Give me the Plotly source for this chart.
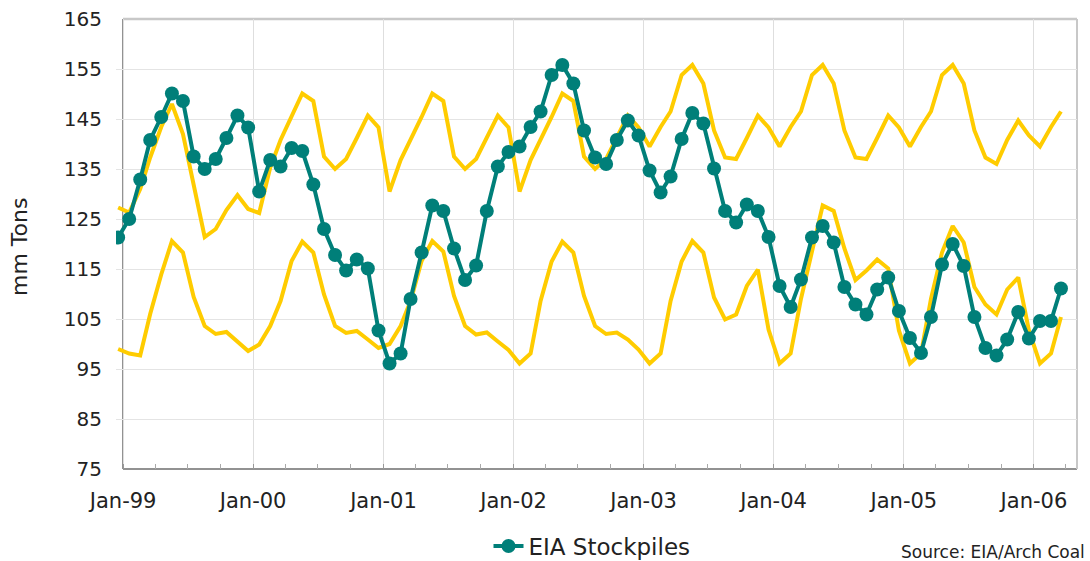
import pandas as pd
import plotly.graph_objects as go

# Monthly values, Dec-98 .. Mar-06 (mm tons)
eia_stockpiles = [
    121.3,
    125.0, 132.9, 140.8, 145.4, 150.1, 148.6, 137.5, 135.0, 137.0, 141.2, 145.7, 143.3,
    130.5, 136.8, 135.5, 139.2, 138.6, 131.9, 123.0, 117.8, 114.7, 116.9, 115.1, 102.7,
    96.1, 98.1, 109.0, 118.3, 127.7, 126.6, 119.1, 112.8, 115.7, 126.6, 135.5, 138.4,
    139.5, 143.4, 146.5, 153.8, 155.8, 152.1, 142.7, 137.3, 136.0, 140.8, 144.7, 141.7,
    134.7, 130.3, 133.5, 141.0, 146.2, 144.1, 135.1, 126.6, 124.3, 127.9, 126.6, 121.4,
    111.6, 107.4, 112.9, 121.3, 123.6, 120.3, 111.4, 107.9, 105.9, 110.9, 113.3, 106.6,
    101.2, 98.2, 105.4, 115.9, 120.0, 115.6, 105.4, 99.2, 97.7, 100.9, 106.4, 101.1,
    104.6, 104.6, 111.1,
]

range_high = [
    127.3,
    126.3, 131.0, 137.3, 143.4, 148.0, 142.0, 132.0, 121.4, 123.0, 126.8, 129.8, 127.0,
    126.2, 135.3, 140.8, 145.4, 150.1, 148.6, 137.5, 135.0, 137.0, 141.2, 145.7, 143.3,
    130.5, 136.8, 140.8, 145.4, 150.1, 148.6, 137.5, 135.0, 137.0, 141.2, 145.7, 143.3,
    130.5, 136.8, 140.8, 145.4, 150.1, 148.6, 137.5, 135.0, 137.0, 141.2, 145.7, 143.3,
    139.5, 143.4, 146.5, 153.8, 155.8, 152.1, 142.7, 137.3, 137.0, 141.2, 145.7, 143.3,
    139.5, 143.4, 146.5, 153.8, 155.8, 152.1, 142.7, 137.3, 137.0, 141.2, 145.7, 143.3,
    139.5, 143.4, 146.5, 153.8, 155.8, 152.1, 142.7, 137.3, 136.0, 140.8, 144.7, 141.7,
    139.5, 143.4, 146.5,
]

range_low = [
    99.0,
    98.1, 97.7, 106.0, 113.9, 120.6, 118.3, 109.4, 103.6, 102.0, 102.4, 100.5, 98.6,
    99.9, 103.6, 108.6, 116.6, 120.5, 118.3, 109.9, 103.6, 102.2, 102.6, 100.9, 99.2,
    100.0, 103.6, 108.6, 116.6, 120.6, 118.5, 109.6, 103.6, 101.9, 102.3, 100.5, 98.8,
    96.1, 98.1, 108.6, 116.5, 120.5, 118.3, 109.6, 103.6, 102.0, 102.3, 100.9, 98.9,
    96.1, 98.1, 108.6, 116.5, 120.6, 118.3, 109.3, 104.9, 105.9, 111.6, 114.9, 102.9,
    96.1, 98.1, 109.0, 118.3, 127.7, 126.6, 119.1, 112.8, 114.7, 116.9, 115.1, 102.7,
    96.1, 98.1, 109.0, 118.3, 123.6, 120.3, 111.4, 107.9, 105.9, 110.9, 113.3, 102.7,
    96.1, 98.1, 105.4,
]

first_month = "1998-12-01"
dates = pd.date_range(first_month, periods=len(eia_stockpiles), freq="MS") + pd.Timedelta(days=17)

YELLOW = "#FFCC00"
TEAL = "#007F79"
FONT = "DejaVu Sans"

fig = go.Figure()
fig.add_trace(go.Scatter(x=dates, y=range_high, mode="lines",
                         line=dict(color=YELLOW, width=4), showlegend=False, hoverinfo="skip"))
fig.add_trace(go.Scatter(x=dates, y=range_low, mode="lines",
                         line=dict(color=YELLOW, width=4), showlegend=False, hoverinfo="skip"))
fig.add_trace(go.Scatter(x=dates, y=eia_stockpiles, mode="lines+markers", name="EIA Stockpiles",
                         line=dict(color=TEAL, width=4),
                         marker=dict(color=TEAL, size=14)))

plot_left_px, plot_right_px = 116, 1077
plot_top_px, plot_bottom_px = 19, 469
pw = plot_right_px - plot_left_px
ph = plot_bottom_px - plot_top_px
axis_px = 123
ax0 = (axis_px - plot_left_px) / pw

fig.update_layout(
    width=1090, height=561,
    margin=dict(l=plot_left_px, r=1090 - plot_right_px, t=plot_top_px, b=561 - plot_bottom_px,
                autoexpand=False),
    paper_bgcolor="white", plot_bgcolor="white",
    font=dict(family=FONT, size=20, color="#222222"),
    xaxis=dict(
        type="date", range=["1998-12-12", "2006-05-02"],
        tick0="1999-01-01", dtick="M12", tickformat="%b-%y",
        showgrid=True, gridcolor="#dedede", gridwidth=1,
        ticks="inside", ticklen=5, tickcolor="#999999",
        minor=dict(dtick="M3", tick0="1999-01-01", ticks="inside", ticklen=5,
                   tickcolor="#aaaaaa", showgrid=False),
        showline=False, zeroline=False, automargin=False,
        tickfont=dict(size=21), ticklabelstandoff=17,
    ),
    yaxis=dict(
        range=[75, 165], tick0=75, dtick=10,
        showgrid=True, gridcolor="#e4e4e4", gridwidth=1,
        ticks="", showline=False, zeroline=False, automargin=False,
        tickfont=dict(size=20), ticklabelstandoff=13,
    ),
    legend=dict(orientation="h", x=(592 - plot_left_px) / pw, xanchor="center",
                y=(plot_bottom_px - 546) / ph, yanchor="middle",
                font=dict(size=23), bgcolor="rgba(0,0,0,0)"),
    shapes=[
        dict(type="line", xref="paper", yref="paper", x0=ax0, x1=ax0, y0=0, y1=1,
             line=dict(color="#6e6e6e", width=1.5), layer="between"),
        dict(type="line", xref="paper", yref="paper", x0=ax0, x1=1, y0=0, y1=0,
             line=dict(color="#6e6e6e", width=1.5), layer="between"),
        dict(type="line", xref="paper", yref="paper", x0=ax0, x1=1, y0=1, y1=1,
             line=dict(color="#c8c8c8", width=2.5), layer="between"),
        dict(type="line", xref="paper", yref="paper", x0=1, x1=1, y0=0, y1=1,
             line=dict(color="#c8c8c8", width=2), layer="between"),
    ],
    annotations=[
        dict(text="mm Tons", xref="paper", yref="paper", x=(20 - plot_left_px) / pw,
             y=(plot_bottom_px - 247) / ph,
             textangle=-90, showarrow=False, font=dict(size=22), xanchor="center", yanchor="middle"),
        dict(text="Source: EIA/Arch Coal", xref="paper", yref="paper",
             x=(899 - plot_left_px) / pw, y=(plot_bottom_px - 552) / ph,
             xanchor="left", yanchor="middle", showarrow=False, font=dict(size=17)),
    ],
)

fig.write_html("out.html", config={"displayModeBar": False},
               post_script="document.body.style.margin='0px';document.body.style.overflow='hidden';")
